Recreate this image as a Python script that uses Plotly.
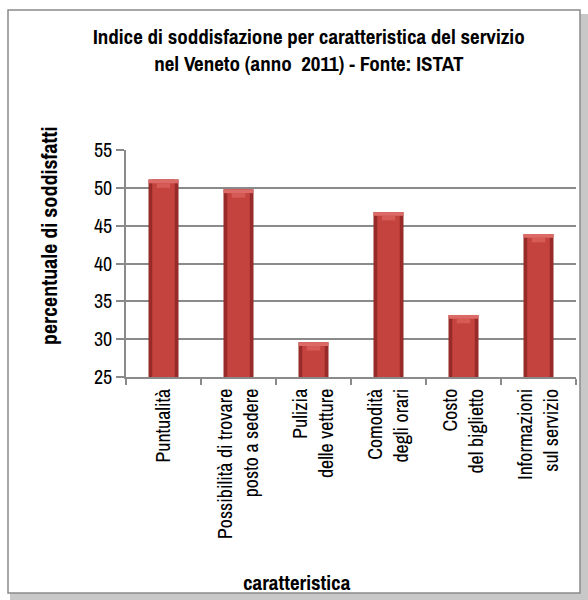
import plotly.graph_objects as go

# Indice di soddisfazione per caratteristica del servizio, Veneto 2011 (ISTAT)
categorie = [
    "Puntualità",
    "Possibilità di trovare<br>posto a sedere",
    "Pulizia<br>delle vetture",
    "Comodità<br>degli orari",
    "Costo<br>del biglietto",
    "Informazioni<br>sul servizio",
]
soddisfatti = [51.1, 49.8, 29.6, 46.8, 33.2, 43.9]
tick_y = [25, 30, 35, 40, 45, 50, 55]

FONT = "Archivo Narrow, Roboto Condensed, Liberation Sans, sans-serif"
W, H = 588, 600
L, R, T, B = 126, 12, 150, 223
PW, PH = W - L - R, H - T - B


def px_x(px):
    return (px - L) / PW


def px_y(py):
    return (H - B - py) / PH


fig = go.Figure()

# shaded cylinder-like bars: dark body, lighter core, bevelled bright cap
fig.add_trace(go.Bar(x=categorie, y=[v - 25 for v in soddisfatti], base=25, width=0.4,
                     marker=dict(color="#962b29", line=dict(width=0)), hoverinfo="skip"))
fig.add_trace(go.Bar(x=categorie, y=[v - 25 for v in soddisfatti], base=25, width=0.3,
                     marker=dict(color="#c4433f", line=dict(width=0)),
                     hovertemplate="%{x}: %{customdata}<extra></extra>",
                     customdata=soddisfatti))
fig.add_trace(go.Bar(x=categorie, y=[0.5] * len(soddisfatti),
                     base=[v - 0.5 for v in soddisfatti], width=0.4,
                     marker=dict(color="#dc6a66", line=dict(width=0)), hoverinfo="skip"))
fig.add_trace(go.Bar(x=categorie, y=[0.6] * len(soddisfatti),
                     base=[v - 1.1 for v in soddisfatti], width=0.18,
                     marker=dict(color="#d65b57", line=dict(width=0)), hoverinfo="skip"))

# chart frame with soft shadow on the right and bottom
fig.add_shape(type="rect", xref="paper", yref="paper",
              x0=px_x(10), x1=px_x(588), y0=px_y(14), y1=px_y(600),
              fillcolor="#c8c8c8", line=dict(width=0), layer="below")
fig.add_shape(type="rect", xref="paper", yref="paper",
              x0=px_x(8), x1=px_x(580), y0=px_y(10), y1=px_y(593),
              fillcolor="white", line=dict(color="#8a8a8a", width=1.5), layer="below")

fig.add_annotation(text="<b>Indice di soddisfazione per caratteristica del servizio<br>"
                        "nel Veneto (anno  2011) - Fonte: ISTAT</b>",
                   xref="paper", yref="paper", x=px_x(309), y=px_y(50),
                   showarrow=False, font=dict(family=FONT, size=21, color="black"),
                   xanchor="center", yanchor="middle", align="center")
fig.add_annotation(text="<b>caratteristica</b>", xref="paper", yref="paper",
                   x=px_x(297), y=px_y(582), showarrow=False,
                   font=dict(family=FONT, size=21, color="black"),
                   xanchor="center", yanchor="middle")
fig.add_annotation(text="<b>percentuale di soddisfatti</b>", xref="paper", yref="paper",
                   x=px_x(49), y=px_y(236), showarrow=False, textangle=-90,
                   font=dict(family=FONT, size=22, color="black"),
                   xanchor="center", yanchor="middle")

fig.update_layout(
    width=W, height=H,
    margin=dict(l=L, r=R, t=T, b=B),
    paper_bgcolor="white", plot_bgcolor="rgba(0,0,0,0)",
    barmode="overlay", showlegend=False, bargap=0.6,
    font=dict(family=FONT, size=20, color="black"),
)
fig.update_xaxes(
    type="category", tickangle=-90, tickson="boundaries",
    ticks="outside", ticklen=6, tickcolor="#8a8a8a", tickwidth=1.5,
    ticklabelstandoff=2,
    showline=True, linecolor="#8a8a8a", linewidth=1.5,
    showgrid=False, tickfont=dict(family=FONT, size=20, color="black"),
)
fig.update_yaxes(
    range=[25, 55], tickvals=tick_y, ticks="outside", ticklen=8,
    tickcolor="#8a8a8a", tickwidth=1.5,
    showline=True, linecolor="#8a8a8a", linewidth=1.5,
    showgrid=True, gridcolor="#8a8a8a", gridwidth=1.5, zeroline=False,
    tickfont=dict(family=FONT, size=20, color="black"),
)

fig.write_html("out.html")
